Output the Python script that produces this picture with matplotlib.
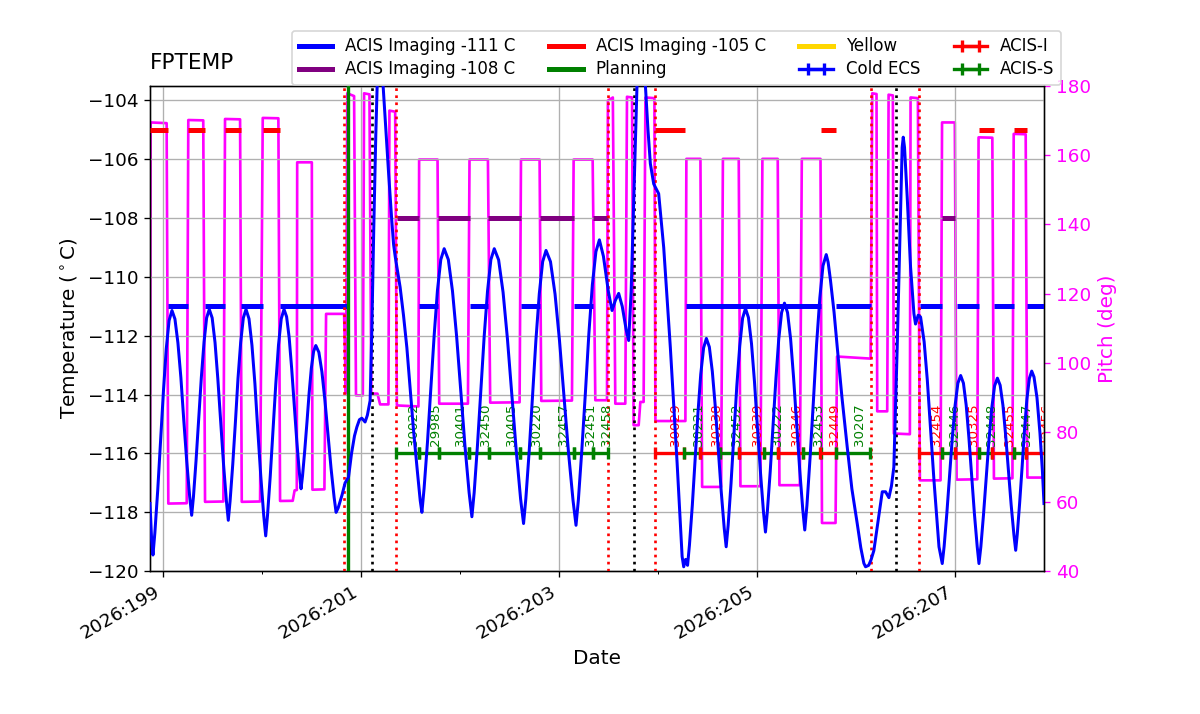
import numpy as np
import matplotlib
matplotlib.use('Agg')
import matplotlib.pyplot as plt
import matplotlib.dates as mdates

# FPTEMP model (day of year 2026, deg C)
temp_doy = [198.869, 198.885, 198.899, 198.918, 198.947, 198.976, 199.005, 199.033, 199.062, 199.091,
            199.121, 199.151, 199.181, 199.210, 199.240, 199.270, 199.290, 199.308, 199.334, 199.361,
            199.388, 199.415, 199.441, 199.468, 199.497, 199.526, 199.554, 199.583, 199.612, 199.641,
            199.660, 199.678, 199.705, 199.732, 199.758, 199.785, 199.812, 199.839, 199.869, 199.899,
            199.929, 199.958, 199.988, 200.018, 200.038, 200.056, 200.084, 200.112, 200.140, 200.167,
            200.195, 200.223, 200.249, 200.275, 200.300, 200.326, 200.352, 200.378, 200.395, 200.410,
            200.432, 200.455, 200.477, 200.499, 200.522, 200.544, 200.575, 200.606, 200.636, 200.667,
            200.698, 200.729, 200.749, 200.770, 200.810, 200.840, 200.857, 200.875, 200.905, 200.935,
            200.959, 200.985, 201.009, 201.042, 201.065, 201.093, 201.110, 201.130, 201.150, 201.164,
            201.180, 201.195, 201.210, 201.224, 201.250, 201.280, 201.312, 201.330, 201.346, 201.370,
            201.396, 201.430, 201.464, 201.531, 201.570, 201.599, 201.616, 201.638, 201.672, 201.706,
            201.740, 201.773, 201.807, 201.841, 201.883, 201.925, 201.967, 202.009, 202.051, 202.093,
            202.121, 202.144, 202.177, 202.211, 202.245, 202.279, 202.313, 202.347, 202.391, 202.436,
            202.480, 202.525, 202.569, 202.613, 202.643, 202.666, 202.700, 202.734, 202.768, 202.802,
            202.836, 202.870, 202.915, 202.961, 203.006, 203.052, 203.097, 203.143, 203.173, 203.197,
            203.232, 203.268, 203.303, 203.338, 203.374, 203.409, 203.450, 203.500, 203.537, 203.570,
            203.604, 203.640, 203.680, 203.705, 203.730, 203.760, 203.789, 203.810, 203.830, 203.852,
            203.874, 203.900, 203.924, 203.958, 204.008, 204.059, 204.126, 204.194, 204.245, 204.261,
            204.280, 204.300, 204.319, 204.348, 204.376, 204.405, 204.433, 204.462, 204.490, 204.520,
            204.550, 204.580, 204.610, 204.640, 204.670, 204.690, 204.710, 204.739, 204.768, 204.797,
            204.827, 204.856, 204.885, 204.915, 204.946, 204.976, 205.006, 205.037, 205.067, 205.087,
            205.106, 205.135, 205.164, 205.193, 205.221, 205.250, 205.279, 205.310, 205.341, 205.371,
            205.402, 205.433, 205.464, 205.484, 205.506, 205.538, 205.571, 205.603, 205.636, 205.668,
            205.701, 205.720, 205.744, 205.780, 205.812, 205.860, 205.913, 205.960, 206.014, 206.050,
            206.081, 206.098, 206.130, 206.155, 206.182, 206.220, 206.267, 206.300, 206.334, 206.360,
            206.384, 206.418, 206.452, 206.468, 206.479, 206.492, 206.519, 206.553, 206.587, 206.603,
            206.630, 206.654, 206.690, 206.722, 206.789, 206.840, 206.873, 206.892, 206.919, 206.947,
            206.975, 207.003, 207.031, 207.059, 207.087, 207.115, 207.142, 207.170, 207.198, 207.226,
            207.244, 207.263, 207.290, 207.318, 207.346, 207.374, 207.402, 207.430, 207.458, 207.486,
            207.513, 207.541, 207.569, 207.597, 207.615, 207.631, 207.655, 207.680, 207.704, 207.728,
            207.753, 207.777, 207.800, 207.830, 207.860, 207.885, 207.901]
temp_val = [-117.7, -118.9, -119.45, -118.7, -117.25, -115.58, -113.87, -112.45, -111.48, -111.14,
            -111.43, -112.24, -113.42, -114.86, -116.26, -117.47, -118.1, -117.47, -116.25, -114.84,
            -113.4, -112.21, -111.39, -111.1, -111.39, -112.23, -113.45, -114.93, -116.37, -117.62,
            -118.27, -117.62, -116.37, -114.93, -113.45, -112.23, -111.39, -111.1, -111.42, -112.32,
            -113.63, -115.21, -116.76, -118.11, -118.8, -118.11, -116.76, -115.21, -113.63, -112.32,
            -111.42, -111.1, -111.35, -112.06, -113.1, -114.36, -115.58, -116.65, -117.2, -116.76,
            -115.91, -114.93, -113.93, -113.1, -112.53, -112.33, -112.56, -113.23, -114.19, -115.36,
            -116.5, -117.49, -118.0, -117.85, -117.4, -117.0, -116.9, -116.8, -116.0, -115.4,
            -115.1, -114.85, -114.8, -114.93, -114.7, -114.2, -111.8, -108.3, -105.2, -103.5,
            -102.7, -102.4, -102.7, -103.5, -104.9, -106.5, -108.1, -108.9, -109.3, -109.8,
            -110.35, -111.3, -112.4, -115.2, -116.6, -117.6, -118.0, -117.19, -115.63, -113.82,
            -111.98, -110.46, -109.41, -109.04, -109.41, -110.48, -112.03, -113.9, -115.74, -117.33,
            -118.15, -117.33, -115.74, -113.9, -112.03, -110.48, -109.41, -109.04, -109.42, -110.52,
            -112.1, -114.03, -115.9, -117.54, -118.38, -117.54, -115.92, -114.06, -112.14, -110.57,
            -109.48, -109.1, -109.48, -110.58, -112.16, -114.09, -115.96, -117.6, -118.44, -117.57,
            -115.87, -113.92, -111.92, -110.27, -109.14, -108.74, -109.3, -110.5, -111.14, -110.8,
            -110.56, -111.0, -111.8, -112.16, -110.5, -107.0, -103.5, -102.7, -102.4, -102.7,
            -103.5, -105.0, -106.15, -106.84, -107.17, -109.0, -112.4, -116.3, -119.5, -119.85,
            -119.6, -119.8, -119.11, -117.76, -116.21, -114.62, -113.31, -112.41, -112.09, -112.38,
            -113.21, -114.41, -115.87, -117.29, -118.53, -119.17, -118.44, -117.02, -115.4, -113.73,
            -112.35, -111.4, -111.07, -111.38, -112.27, -113.56, -115.13, -116.66, -117.99, -118.67,
            -117.97, -116.61, -115.04, -113.44, -112.12, -111.21, -110.89, -111.21, -112.11, -113.42,
            -115.01, -116.56, -117.91, -118.6, -117.76, -116.12, -114.24, -112.31, -110.72, -109.62,
            -109.24, -109.5, -110.12, -111.2, -112.38, -114.1, -115.78, -117.2, -118.38, -119.2,
            -119.73, -119.85, -119.8, -119.6, -119.3, -118.4, -117.3, -117.3, -117.5, -117.1,
            -116.46, -112.38, -107.85, -105.6, -105.25, -105.6, -107.29, -109.67, -111.25, -111.6,
            -111.3, -111.36, -112.2, -113.5, -116.9, -119.17, -119.74, -119.16, -118.05, -116.76,
            -115.45, -114.36, -113.61, -113.35, -113.61, -114.36, -115.45, -116.76, -118.05, -119.16,
            -119.74, -119.17, -118.07, -116.8, -115.51, -114.44, -113.7, -113.44, -113.68, -114.36,
            -115.36, -116.56, -117.74, -118.76, -119.29, -118.74, -117.68, -116.45, -115.2, -114.16,
            -113.45, -113.2, -113.4, -114.1, -115.3, -116.6, -117.7]

# pitch (deg)
pitch_doy = [198.869, 198.875, 199.037, 199.054, 199.240, 199.256, 199.407, 199.425, 199.610, 199.627,
             199.779, 199.796, 199.981, 200.008, 200.166, 200.183, 200.311, 200.330, 200.352, 200.356,
             200.504, 200.510, 200.631, 200.648, 200.830, 200.848, 200.862, 200.931, 200.950, 201.019,
             201.032, 201.086, 201.105, 201.167, 201.194, 201.278, 201.288, 201.346, 201.363, 201.581,
             201.588, 201.774, 201.791, 202.081, 202.097, 202.283, 202.306, 202.603, 202.617, 202.805,
             202.822, 203.132, 203.149, 203.341, 203.368, 203.486, 203.495, 203.545, 203.570, 203.671,
             203.688, 203.739, 203.755, 203.806, 203.823, 203.856, 203.874, 203.965, 203.975, 204.278,
             204.288, 204.430, 204.447, 204.639, 204.657, 204.817, 204.834, 205.036, 205.056, 205.211,
             205.228, 205.434, 205.454, 205.643, 205.658, 205.795, 205.810, 206.149, 206.166, 206.209,
             206.216, 206.317, 206.331, 206.374, 206.384, 206.546, 206.553, 206.627, 206.647, 206.856,
             206.871, 207.000, 207.018, 207.227, 207.240, 207.379, 207.395, 207.582, 207.595, 207.716,
             207.733, 207.901]
pitch_val = [60.0, 169.4, 169.2, 59.5, 59.6, 170.1, 170.0, 60.0, 60.1, 170.4,
             170.3, 60.0, 60.1, 170.7, 170.6, 60.25, 60.3, 63.3, 63.4, 157.9,
             157.9, 63.5, 63.6, 114.2, 114.2, 91.2, 177.8, 177.0, 90.7, 90.7,
             177.8, 177.5, 91.2, 91.2, 88.1, 88.1, 172.8, 172.5, 87.8, 87.5,
             158.7, 158.7, 88.3, 88.3, 158.7, 158.7, 88.6, 88.7, 158.7, 158.7,
             89.1, 89.2, 158.7, 158.7, 89.3, 89.3, 175.7, 176.6, 88.3, 88.3,
             176.8, 176.6, 82.1, 82.1, 88.8, 88.8, 176.6, 176.4, 83.3, 83.3,
             158.9, 158.9, 64.3, 64.3, 158.9, 158.9, 64.5, 64.5, 158.9, 158.9,
             64.8, 64.8, 158.9, 158.9, 53.9, 53.9, 101.9, 101.3, 177.8, 177.6,
             86.1, 86.1, 177.4, 177.2, 79.7, 79.5, 176.6, 176.4, 66.2, 66.2,
             169.4, 169.4, 66.4, 66.5, 165.1, 165.0, 66.7, 66.8, 166.1, 166.0,
             67.0, 67.0]

# ACIS imaging limit intervals
lim111 = [(199.05, 199.256), (199.42, 199.627), (199.79, 200.008), (200.18, 200.857),
          (201.588, 201.774), (202.097, 202.283), (202.617, 202.805), (203.149, 203.341),
          (204.288, 205.643), (205.795, 206.149), (206.647, 206.871), (207.018, 207.240),
          (207.395, 207.595), (207.733, 207.901)]
lim108 = [(201.363, 201.588), (201.774, 202.097), (202.283, 202.617), (202.805, 203.149),
          (203.341, 203.495), (206.871, 207.000)]
lim105 = [(198.869, 199.05), (199.256, 199.42), (199.627, 199.79), (200.008, 200.18),
          (203.975, 204.278), (205.643, 205.795), (207.240, 207.395), (207.595, 207.733)]

# observations
obs_start = [201.356, 201.582, 201.784, 202.095, 202.290, 202.611, 202.813, 203.157, 203.346,
             203.968, 204.261, 204.423, 204.632, 204.817, 205.070, 205.211, 205.468, 205.643, 205.795,
             206.637, 206.871, 207.000, 207.240, 207.379, 207.595, 207.716]
obs_stop = [201.582, 201.784, 202.095, 202.290, 202.611, 202.813, 203.157, 203.346, 203.494,
            204.261, 204.423, 204.632, 204.817, 205.070, 205.211, 205.468, 205.643, 205.795, 206.142,
            206.871, 207.000, 207.240, 207.379, 207.595, 207.716, 208.000]
obs_id = ['30022', '29985', '30401', '32450', '30405', '30220', '32457', '32451', '32458',
          '30029', '30221', '30238', '32452', '30339', '30222', '30346', '32453', '32449', '30207',
          '32454', '32446', '30325', '32448', '32455', '32447', '32456']
obs_inst = ['S', 'S', 'S', 'S', 'S', 'S', 'S', 'S', 'S',
            'I', 'S', 'I', 'S', 'I', 'S', 'I', 'S', 'I', 'S',
            'I', 'S', 'I', 'S', 'I', 'S', 'I']

# vertical markers
red_lines = [200.830, 201.356, 203.492, 203.968, 206.149, 206.637]
black_lines = [201.116, 203.755, 206.409]
plan_time = 200.874

t0 = mdates.date2num(np.datetime64('2026-01-01'))


def to_num(doy):
    return t0 + np.asarray(doy, dtype=float) - 1.0


fig, ax = plt.subplots(figsize=(10, 5.95), dpi=120)
fig.subplots_adjust(left=0.125, right=0.87, bottom=0.2, top=0.88)
ax2 = ax.twinx()
ax.set_zorder(ax2.get_zorder() + 1)
ax.patch.set_visible(False)

# pitch
ax2.plot(to_num(pitch_doy), pitch_val, color='magenta', lw=1.6)
ax2.set_ylim(40, 180)
ax2.set_ylabel('Pitch (deg)', color='magenta', fontsize=12)
ax2.tick_params(axis='y', colors='magenta', labelcolor='magenta', labelsize=11)

# temperature
ax.plot(to_num(temp_doy), temp_val, color='blue', lw=1.8, zorder=4)

for seg_list, val, col in [(lim111, -111, 'blue'), (lim108, -108, 'purple'), (lim105, -105, 'red')]:
    a = to_num([s[0] for s in seg_list])
    b = to_num([s[1] for s in seg_list])
    ax.hlines(np.full(len(a), val), a, b, colors=col, lw=3, zorder=3)

for x in red_lines:
    ax.axvline(to_num(x), color='red', ls=':', lw=1.6, zorder=3)
for x in black_lines:
    ax.axvline(to_num(x), color='black', ls=':', lw=1.6, zorder=3)
ax.axvline(to_num(plan_time), color='green', lw=2, zorder=3)

# obsids, one errorbar per observation
eb = {}
for t1, t2, oid, code in zip(obs_start, obs_stop, obs_id, obs_inst):
    col = 'red' if code == 'I' else 'green'
    xm = 0.5 * (to_num(t1) + to_num(t2))
    hw = 0.5 * (t2 - t1)
    e = ax.errorbar([xm], [-116.0], xerr=[hw], color=col, elinewidth=2, lw=2,
                    capsize=3.5, capthick=2, zorder=3)
    eb.setdefault(code, e)
    ax.text(xm, -115.75, oid, rotation=90, fontsize=8, ha='left', va='bottom',
            color=col, clip_on=True)

cold = ax.errorbar([np.nan], [np.nan], xerr=[np.nan], color='blue', elinewidth=2, lw=2,
                   capsize=3.5, capthick=2)

handles = [plt.Line2D([], [], color='blue', lw=3),
           plt.Line2D([], [], color='purple', lw=3),
           plt.Line2D([], [], color='red', lw=3),
           plt.Line2D([], [], color='green', lw=3),
           plt.Line2D([], [], color='gold', lw=3),
           cold, eb['I'], eb['S']]
labels = ['ACIS Imaging -111 C', 'ACIS Imaging -108 C', 'ACIS Imaging -105 C', 'Planning',
          'Yellow', 'Cold ECS', 'ACIS-I', 'ACIS-S']
ax.legend(handles, labels, ncol=4, loc='upper left', bbox_to_anchor=(0.159, 1.113),
          borderaxespad=0, fontsize=10, labelspacing=0.3)

ax.set_ylim(-120, -103.5)
ax.set_yticks(np.arange(-120, -103, 2))
ax.set_xlim(to_num(198.869), to_num(207.901))
ax.xaxis_date()
ax.set_xticks(to_num([199, 201, 203, 205, 207]))
ax.set_xticks(to_num(np.arange(199, 208)), minor=True)
ax.xaxis.set_major_formatter(mdates.DateFormatter('%Y:%j'))
ax.tick_params(axis='both', labelsize=11)
ax.grid(True)
for lbl in ax.get_xticklabels():
    lbl.set_rotation(30)
    lbl.set_ha('right')

ax.set_xlabel('Date', fontsize=12)
ax.set_ylabel(r'Temperature ($^\circ$C)', fontsize=12)
ax.set_title('FPTEMP', loc='left', fontsize=13, pad=10)

fig.savefig('out.png')
